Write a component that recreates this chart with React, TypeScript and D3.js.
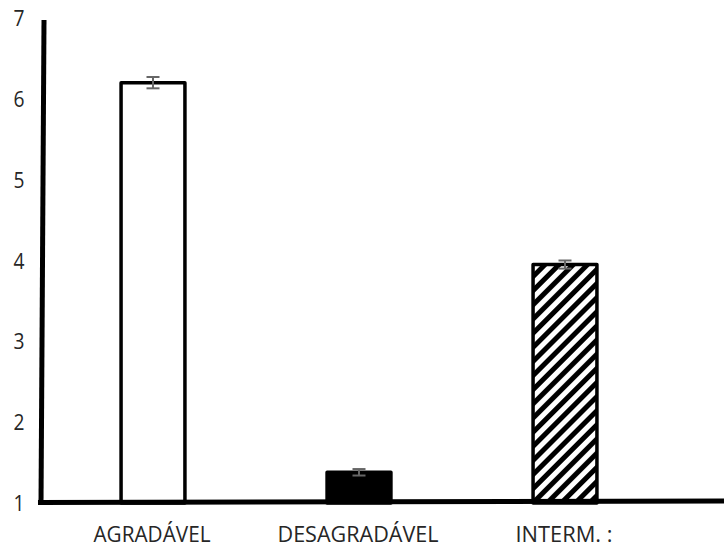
import React from "react";
import * as d3 from "d3";

const categories = ["AGRADÁVEL", "DESAGRADÁVEL", "INTERM. :"];
const values = [6.2, 1.38, 3.95];
const errors = [0.07, 0.04, 0.05];
const yTicks = [1, 2, 3, 4, 5, 6, 7];
const fills = ["white", "black", "url(#hatch)"];
const labelWidths = [117, 161, 97];

export default function App() {
  const W = 724, H = 550;
  const x = d3.scaleBand<string>().domain(categories).range([50, 668]).paddingInner(0.69).paddingOuter(0.345);
  const y = d3.scaleLinear().domain([1, 7]).range([503, 18]);
  return (
    <svg width={W} height={H} style={{ position: "absolute", left: 0, top: 0, background: "white" }}>
      <defs>
        <pattern id="hatch" patternUnits="userSpaceOnUse" width={10} height={10} patternTransform="rotate(45)">
          <rect x={0} y={0} width={10} height={10} fill="white" />
          <rect x={0} y={0} width={5} height={10} fill="black" />
        </pattern>
      </defs>
      {yTicks.map((t) => (
        <text key={t} x={19} y={y(t) + 8} fontFamily="'Open Sans', sans-serif" fontSize={22} fill="#262626" textAnchor="middle" textLength={11} lengthAdjust="spacingAndGlyphs">
          {t}
        </text>
      ))}
      {categories.map((c, i) => {
        const bx = x(c)!;
        const bw = x.bandwidth();
        const cx = bx + bw / 2;
        const top = y(values[i]);
        return (
          <g key={c}>
            <rect x={bx} y={top} width={bw} height={y(1) - top} fill={fills[i]} stroke="black" strokeWidth={3.5} strokeLinejoin="round" />
            <line x1={cx} x2={cx} y1={y(values[i] + errors[i])} y2={y(values[i] - errors[i])} stroke="#666" strokeWidth={2} />
            <line x1={cx - 6.5} x2={cx + 6.5} y1={y(values[i] + errors[i])} y2={y(values[i] + errors[i])} stroke="#666" strokeWidth={2} />
            <line x1={cx - 6.5} x2={cx + 6.5} y1={y(values[i] - errors[i])} y2={y(values[i] - errors[i])} stroke="#666" strokeWidth={2} />
            <text x={cx - 1} y={542} fontFamily="'Open Sans', sans-serif" fontSize={21} fill="#262626" textAnchor="middle" textLength={labelWidths[i]} lengthAdjust="spacingAndGlyphs">
              {c}
            </text>
          </g>
        );
      })}
      <line x1={44} y1={20} x2={41} y2={505} stroke="black" strokeWidth={5} />
      <line x1={38} y1={502.5} x2={724} y2={501} stroke="black" strokeWidth={5} />
    </svg>
  );
}
